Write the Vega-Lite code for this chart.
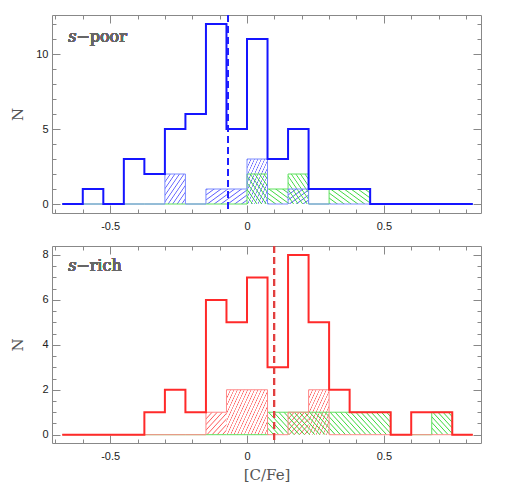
{
"$schema": "https://vega.github.io/schema/vega-lite/v6.json",
"padding": {"left": 10, "top": 13, "right": 5, "bottom": 5},
"spacing": 12,
"config": {"view": {"stroke": "#888", "strokeWidth": 1},
 "axis": {"domain": false, "grid": false, "tickColor": "#888", "labelFont": "Liberation Sans", "labelFontSize": 11, "labelColor": "#222", "titleFont": "DejaVu Serif", "titleFontWeight": "normal", "titleFontSize": 15, "titleColor": "#555"}},
"datasets": {
 "poor": [
  {"x0": -0.675, "x1": -0.6, "total": 0, "blue": 0, "green": 0},
  {"x0": -0.6, "x1": -0.525, "total": 1, "blue": 0, "green": 0},
  {"x0": -0.525, "x1": -0.45, "total": 0, "blue": 0, "green": 0},
  {"x0": -0.45, "x1": -0.375, "total": 3, "blue": 0, "green": 0},
  {"x0": -0.375, "x1": -0.3, "total": 2, "blue": 0, "green": 0},
  {"x0": -0.3, "x1": -0.225, "total": 5, "blue": 2, "green": 0},
  {"x0": -0.225, "x1": -0.15, "total": 6, "blue": 0, "green": 0},
  {"x0": -0.15, "x1": -0.075, "total": 12, "blue": 1, "green": 0},
  {"x0": -0.075, "x1": 0, "total": 5, "blue": 1, "green": 0},
  {"x0": 0, "x1": 0.075, "total": 11, "blue": 3, "green": 2},
  {"x0": 0.075, "x1": 0.15, "total": 3, "blue": 0, "green": 1},
  {"x0": 0.15, "x1": 0.225, "total": 5, "blue": 1, "green": 2},
  {"x0": 0.225, "x1": 0.3, "total": 1, "blue": 0, "green": 0},
  {"x0": 0.3, "x1": 0.375, "total": 1, "blue": 0, "green": 1},
  {"x0": 0.375, "x1": 0.45, "total": 1, "blue": 0, "green": 1},
  {"x0": 0.45, "x1": 0.525, "total": 0, "blue": 0, "green": 0},
  {"x0": 0.525, "x1": 0.6, "total": 0, "blue": 0, "green": 0},
  {"x0": 0.6, "x1": 0.675, "total": 0, "blue": 0, "green": 0},
  {"x0": 0.675, "x1": 0.75, "total": 0, "blue": 0, "green": 0},
  {"x0": 0.75, "x1": 0.825, "total": 0, "blue": 0, "green": 0},
  {"x0": 0.825, "x1": null, "total": 0, "blue": 0, "green": 0}
 ],
 "rich": [
  {"x0": -0.675, "x1": -0.6, "total": 0, "red": 0, "green": 0},
  {"x0": -0.6, "x1": -0.525, "total": 0, "red": 0, "green": 0},
  {"x0": -0.525, "x1": -0.45, "total": 0, "red": 0, "green": 0},
  {"x0": -0.45, "x1": -0.375, "total": 0, "red": 0, "green": 0},
  {"x0": -0.375, "x1": -0.3, "total": 1, "red": 0, "green": 0},
  {"x0": -0.3, "x1": -0.225, "total": 2, "red": 0, "green": 0},
  {"x0": -0.225, "x1": -0.15, "total": 1, "red": 0, "green": 0},
  {"x0": -0.15, "x1": -0.075, "total": 6, "red": 1, "green": 0},
  {"x0": -0.075, "x1": 0, "total": 5, "red": 2, "green": 0},
  {"x0": 0, "x1": 0.075, "total": 7, "red": 2, "green": 0},
  {"x0": 0.075, "x1": 0.15, "total": 3, "red": 0, "green": 1},
  {"x0": 0.15, "x1": 0.225, "total": 8, "red": 1, "green": 1},
  {"x0": 0.225, "x1": 0.3, "total": 5, "red": 2, "green": 1},
  {"x0": 0.3, "x1": 0.375, "total": 2, "red": 0, "green": 1},
  {"x0": 0.375, "x1": 0.45, "total": 1, "red": 0, "green": 1},
  {"x0": 0.45, "x1": 0.525, "total": 1, "red": 0, "green": 1},
  {"x0": 0.525, "x1": 0.6, "total": 0, "red": 0, "green": 0},
  {"x0": 0.6, "x1": 0.675, "total": 1, "red": 0, "green": 0},
  {"x0": 0.675, "x1": 0.75, "total": 1, "red": 0, "green": 1},
  {"x0": 0.75, "x1": 0.825, "total": 0, "red": 0, "green": 0},
  {"x0": 0.825, "x1": null, "total": 0, "red": 0, "green": 0}
 ]
},
"vconcat": [
 {
  "width": 429, "height": 198,
  "data": {"name": "poor"},
  "resolve": {"axis": {"x": "independent", "y": "independent"}},
  "layer": [
   {"transform": [{"filter": "datum.blue > 0"}],
    "mark": {"type": "rect", "stroke": null},
    "encoding": {
     "x": {"field": "x0", "type": "quantitative", "scale": {"domain": [-0.7125, 0.855], "nice": false, "zero": false},
       "axis": {"orient": "bottom", "values": [-0.5, 0, 0.5], "tickSize": -8, "labelPadding": 15, "title": null,
         "labelExpr": "datum.value == 0 ? '0' : (datum.value < 0 ? '-' : '') + format(abs(datum.value), '.1f')"}},
     "x2": {"field": "x1"},
     "y": {"field": "blue", "type": "quantitative", "scale": {"domain": [-0.6, 12.6], "nice": false, "zero": false},
       "axis": {"orient": "left", "values": [0, 5, 10], "tickSize": -8, "labelPadding": 12, "title": "N", "titlePadding": 10}},
     "y2": {"datum": 0},
     "fill": {"condition": [
       {"test": "datum.blue == 1", "value": {"gradient": "linear", "x1": 0, "y1": 0, "x2": 1, "y2": 1, "stops": [
        {"offset": 0, "color": "rgba(92,92,255,0)"}, {"offset": 0.0333, "color": "#5c5cff"}, {"offset": 0.0667, "color": "rgba(92,92,255,0)"},
        {"offset": 0.1667, "color": "rgba(92,92,255,0)"}, {"offset": 0.2, "color": "#5c5cff"}, {"offset": 0.2333, "color": "rgba(92,92,255,0)"},
        {"offset": 0.3333, "color": "rgba(92,92,255,0)"}, {"offset": 0.3667, "color": "#5c5cff"}, {"offset": 0.4, "color": "rgba(92,92,255,0)"},
        {"offset": 0.5, "color": "rgba(92,92,255,0)"}, {"offset": 0.5333, "color": "#5c5cff"}, {"offset": 0.5667, "color": "rgba(92,92,255,0)"},
        {"offset": 0.6667, "color": "rgba(92,92,255,0)"}, {"offset": 0.7, "color": "#5c5cff"}, {"offset": 0.7333, "color": "rgba(92,92,255,0)"},
        {"offset": 0.8333, "color": "rgba(92,92,255,0)"}, {"offset": 0.8667, "color": "#5c5cff"}, {"offset": 0.9, "color": "rgba(92,92,255,0)"}]}},
       {"test": "datum.blue == 2", "value": {"gradient": "linear", "x1": 0, "y1": 0, "x2": 1, "y2": 1, "stops": [
        {"offset": 0, "color": "rgba(92,92,255,0)"}, {"offset": 0.0222, "color": "#5c5cff"}, {"offset": 0.0444, "color": "rgba(92,92,255,0)"},
        {"offset": 0.1111, "color": "rgba(92,92,255,0)"}, {"offset": 0.1333, "color": "#5c5cff"}, {"offset": 0.1556, "color": "rgba(92,92,255,0)"},
        {"offset": 0.2222, "color": "rgba(92,92,255,0)"}, {"offset": 0.2444, "color": "#5c5cff"}, {"offset": 0.2667, "color": "rgba(92,92,255,0)"},
        {"offset": 0.3333, "color": "rgba(92,92,255,0)"}, {"offset": 0.3556, "color": "#5c5cff"}, {"offset": 0.3778, "color": "rgba(92,92,255,0)"},
        {"offset": 0.4444, "color": "rgba(92,92,255,0)"}, {"offset": 0.4667, "color": "#5c5cff"}, {"offset": 0.4889, "color": "rgba(92,92,255,0)"},
        {"offset": 0.5556, "color": "rgba(92,92,255,0)"}, {"offset": 0.5778, "color": "#5c5cff"}, {"offset": 0.6, "color": "rgba(92,92,255,0)"},
        {"offset": 0.6667, "color": "rgba(92,92,255,0)"}, {"offset": 0.6889, "color": "#5c5cff"}, {"offset": 0.7111, "color": "rgba(92,92,255,0)"},
        {"offset": 0.7778, "color": "rgba(92,92,255,0)"}, {"offset": 0.8, "color": "#5c5cff"}, {"offset": 0.8222, "color": "rgba(92,92,255,0)"},
        {"offset": 0.8889, "color": "rgba(92,92,255,0)"}, {"offset": 0.9111, "color": "#5c5cff"}, {"offset": 0.9333, "color": "rgba(92,92,255,0)"}]}}
      ],
      "value": {"gradient": "linear", "x1": 0, "y1": 0, "x2": 1, "y2": 1, "stops": [
        {"offset": 0, "color": "rgba(92,92,255,0)"}, {"offset": 0.0167, "color": "#5c5cff"}, {"offset": 0.0333, "color": "rgba(92,92,255,0)"},
        {"offset": 0.0833, "color": "rgba(92,92,255,0)"}, {"offset": 0.1, "color": "#5c5cff"}, {"offset": 0.1167, "color": "rgba(92,92,255,0)"},
        {"offset": 0.1667, "color": "rgba(92,92,255,0)"}, {"offset": 0.1833, "color": "#5c5cff"}, {"offset": 0.2, "color": "rgba(92,92,255,0)"},
        {"offset": 0.25, "color": "rgba(92,92,255,0)"}, {"offset": 0.2667, "color": "#5c5cff"}, {"offset": 0.2833, "color": "rgba(92,92,255,0)"},
        {"offset": 0.3333, "color": "rgba(92,92,255,0)"}, {"offset": 0.35, "color": "#5c5cff"}, {"offset": 0.3667, "color": "rgba(92,92,255,0)"},
        {"offset": 0.4167, "color": "rgba(92,92,255,0)"}, {"offset": 0.4333, "color": "#5c5cff"}, {"offset": 0.45, "color": "rgba(92,92,255,0)"},
        {"offset": 0.5, "color": "rgba(92,92,255,0)"}, {"offset": 0.5167, "color": "#5c5cff"}, {"offset": 0.5333, "color": "rgba(92,92,255,0)"},
        {"offset": 0.5833, "color": "rgba(92,92,255,0)"}, {"offset": 0.6, "color": "#5c5cff"}, {"offset": 0.6167, "color": "rgba(92,92,255,0)"},
        {"offset": 0.6667, "color": "rgba(92,92,255,0)"}, {"offset": 0.6833, "color": "#5c5cff"}, {"offset": 0.7, "color": "rgba(92,92,255,0)"},
        {"offset": 0.75, "color": "rgba(92,92,255,0)"}, {"offset": 0.7667, "color": "#5c5cff"}, {"offset": 0.7833, "color": "rgba(92,92,255,0)"},
        {"offset": 0.8333, "color": "rgba(92,92,255,0)"}, {"offset": 0.85, "color": "#5c5cff"}, {"offset": 0.8667, "color": "rgba(92,92,255,0)"},
        {"offset": 0.9167, "color": "rgba(92,92,255,0)"}, {"offset": 0.9333, "color": "#5c5cff"}, {"offset": 0.95, "color": "rgba(92,92,255,0)"}]}}
    }},
   {"transform": [{"filter": "datum.green > 0"}],
    "mark": {"type": "rect", "stroke": null},
    "encoding": {
     "x": {"field": "x0", "type": "quantitative",
       "axis": {"orient": "bottom", "values": [-0.7, -0.6, -0.5, -0.4, -0.3, -0.2, -0.1, 0, 0.1, 0.2, 0.3, 0.4, 0.5, 0.6, 0.7, 0.8], "tickSize": -4, "labels": false, "title": null}},
     "x2": {"field": "x1"},
     "y": {"field": "green", "type": "quantitative",
       "axis": {"orient": "left", "values": [0, 1, 2, 3, 4, 5, 6, 7, 8, 9, 10, 11, 12], "tickSize": -4, "labels": false, "title": null}},
     "y2": {"datum": 0},
     "fill": {"condition": [
       {"test": "datum.green == 1", "value": {"gradient": "linear", "x1": 0, "y1": 1, "x2": 1, "y2": 0, "stops": [
        {"offset": 0, "color": "rgba(62,216,62,0)"}, {"offset": 0.0333, "color": "#3ed83e"}, {"offset": 0.0667, "color": "rgba(62,216,62,0)"},
        {"offset": 0.1667, "color": "rgba(62,216,62,0)"}, {"offset": 0.2, "color": "#3ed83e"}, {"offset": 0.2333, "color": "rgba(62,216,62,0)"},
        {"offset": 0.3333, "color": "rgba(62,216,62,0)"}, {"offset": 0.3667, "color": "#3ed83e"}, {"offset": 0.4, "color": "rgba(62,216,62,0)"},
        {"offset": 0.5, "color": "rgba(62,216,62,0)"}, {"offset": 0.5333, "color": "#3ed83e"}, {"offset": 0.5667, "color": "rgba(62,216,62,0)"},
        {"offset": 0.6667, "color": "rgba(62,216,62,0)"}, {"offset": 0.7, "color": "#3ed83e"}, {"offset": 0.7333, "color": "rgba(62,216,62,0)"},
        {"offset": 0.8333, "color": "rgba(62,216,62,0)"}, {"offset": 0.8667, "color": "#3ed83e"}, {"offset": 0.9, "color": "rgba(62,216,62,0)"}]}}
      ],
      "value": {"gradient": "linear", "x1": 0, "y1": 1, "x2": 1, "y2": 0, "stops": [
        {"offset": 0, "color": "rgba(62,216,62,0)"}, {"offset": 0.0222, "color": "#3ed83e"}, {"offset": 0.0444, "color": "rgba(62,216,62,0)"},
        {"offset": 0.1111, "color": "rgba(62,216,62,0)"}, {"offset": 0.1333, "color": "#3ed83e"}, {"offset": 0.1556, "color": "rgba(62,216,62,0)"},
        {"offset": 0.2222, "color": "rgba(62,216,62,0)"}, {"offset": 0.2444, "color": "#3ed83e"}, {"offset": 0.2667, "color": "rgba(62,216,62,0)"},
        {"offset": 0.3333, "color": "rgba(62,216,62,0)"}, {"offset": 0.3556, "color": "#3ed83e"}, {"offset": 0.3778, "color": "rgba(62,216,62,0)"},
        {"offset": 0.4444, "color": "rgba(62,216,62,0)"}, {"offset": 0.4667, "color": "#3ed83e"}, {"offset": 0.4889, "color": "rgba(62,216,62,0)"},
        {"offset": 0.5556, "color": "rgba(62,216,62,0)"}, {"offset": 0.5778, "color": "#3ed83e"}, {"offset": 0.6, "color": "rgba(62,216,62,0)"},
        {"offset": 0.6667, "color": "rgba(62,216,62,0)"}, {"offset": 0.6889, "color": "#3ed83e"}, {"offset": 0.7111, "color": "rgba(62,216,62,0)"},
        {"offset": 0.7778, "color": "rgba(62,216,62,0)"}, {"offset": 0.8, "color": "#3ed83e"}, {"offset": 0.8222, "color": "rgba(62,216,62,0)"},
        {"offset": 0.8889, "color": "rgba(62,216,62,0)"}, {"offset": 0.9111, "color": "#3ed83e"}, {"offset": 0.9333, "color": "rgba(62,216,62,0)"}]}}
    }},
   {"mark": {"type": "line", "interpolate": "step-after", "color": "#5fe05f", "strokeWidth": 1},
    "encoding": {
     "x": {"field": "x0", "type": "quantitative", "axis": {"orient": "top", "values": [-0.5, 0, 0.5], "tickSize": -8, "labels": false, "title": null}},
     "y": {"field": "green", "type": "quantitative", "axis": {"orient": "right", "values": [0, 5, 10], "tickSize": -8, "labels": false, "title": null}}
    }},
   {"mark": {"type": "line", "interpolate": "step-after", "color": "#7a8aff", "strokeWidth": 1},
    "encoding": {
     "x": {"field": "x0", "type": "quantitative", "axis": {"orient": "top", "values": [-0.7, -0.6, -0.5, -0.4, -0.3, -0.2, -0.1, 0, 0.1, 0.2, 0.3, 0.4, 0.5, 0.6, 0.7, 0.8], "tickSize": -4, "labels": false, "title": null}},
     "y": {"field": "blue", "type": "quantitative", "axis": {"orient": "right", "values": [0, 1, 2, 3, 4, 5, 6, 7, 8, 9, 10, 11, 12], "tickSize": -4, "labels": false, "title": null}}
    }},
   {"mark": {"type": "line", "interpolate": "step-after", "color": "#1515ff", "strokeWidth": 2},
    "encoding": {
     "x": {"field": "x0", "type": "quantitative", "axis": null},
     "y": {"field": "total", "type": "quantitative", "axis": null}
    }},
   {"mark": {"type": "rule", "color": "#2020ff", "strokeWidth": 1.3, "strokeDash": [7, 4]},
    "encoding": {"x": {"datum": -0.07, "type": "quantitative", "axis": null}}},
   {"mark": {"type": "text", "text": "s", "font": "DejaVu Serif", "fontStyle": "italic", "fontSize": 16, "color": "#666", "align": "left", "baseline": "alphabetic"},
    "encoding": {"x": {"datum": -0.653, "type": "quantitative", "axis": null}, "y": {"datum": 10.8, "type": "quantitative", "axis": null}}},
   {"mark": {"type": "text", "text": "−poor", "font": "DejaVu Serif", "fontSize": 16, "color": "#666", "align": "left", "baseline": "alphabetic", "dx": 8},
    "encoding": {"x": {"datum": -0.653, "type": "quantitative", "axis": null}, "y": {"datum": 10.8, "type": "quantitative", "axis": null}}}
  ]
 },
 {
  "width": 429, "height": 197,
  "data": {"name": "rich"},
  "resolve": {"axis": {"x": "independent", "y": "independent"}},
  "layer": [
   {"transform": [{"filter": "datum.red > 0"}],
    "mark": {"type": "rect", "stroke": null},
    "encoding": {
     "x": {"field": "x0", "type": "quantitative", "scale": {"domain": [-0.7125, 0.855], "nice": false, "zero": false},
       "axis": {"orient": "bottom", "values": [-0.5, 0, 0.5], "tickSize": -8, "labelPadding": 15, "title": "[C/Fe]", "titlePadding": 6,
         "labelExpr": "datum.value == 0 ? '0' : (datum.value < 0 ? '-' : '') + format(abs(datum.value), '.1f')"}},
     "x2": {"field": "x1"},
     "y": {"field": "red", "type": "quantitative", "scale": {"domain": [-0.37, 8.4], "nice": false, "zero": false},
       "axis": {"orient": "left", "values": [0, 2, 4, 6, 8], "tickSize": -8, "labelPadding": 12, "title": "N", "titlePadding": 16}},
     "y2": {"datum": 0},
     "fill": {"condition": [
       {"test": "datum.red == 1", "value": {"gradient": "linear", "x1": 0, "y1": 0, "x2": 1, "y2": 1, "stops": [
        {"offset": 0, "color": "rgba(255,92,92,0)"}, {"offset": 0.025, "color": "#ff5c5c"}, {"offset": 0.05, "color": "rgba(255,92,92,0)"},
        {"offset": 0.125, "color": "rgba(255,92,92,0)"}, {"offset": 0.15, "color": "#ff5c5c"}, {"offset": 0.175, "color": "rgba(255,92,92,0)"},
        {"offset": 0.25, "color": "rgba(255,92,92,0)"}, {"offset": 0.275, "color": "#ff5c5c"}, {"offset": 0.3, "color": "rgba(255,92,92,0)"},
        {"offset": 0.375, "color": "rgba(255,92,92,0)"}, {"offset": 0.4, "color": "#ff5c5c"}, {"offset": 0.425, "color": "rgba(255,92,92,0)"},
        {"offset": 0.5, "color": "rgba(255,92,92,0)"}, {"offset": 0.525, "color": "#ff5c5c"}, {"offset": 0.55, "color": "rgba(255,92,92,0)"},
        {"offset": 0.625, "color": "rgba(255,92,92,0)"}, {"offset": 0.65, "color": "#ff5c5c"}, {"offset": 0.675, "color": "rgba(255,92,92,0)"},
        {"offset": 0.75, "color": "rgba(255,92,92,0)"}, {"offset": 0.775, "color": "#ff5c5c"}, {"offset": 0.8, "color": "rgba(255,92,92,0)"},
        {"offset": 0.875, "color": "rgba(255,92,92,0)"}, {"offset": 0.9, "color": "#ff5c5c"}, {"offset": 0.925, "color": "rgba(255,92,92,0)"}]}}
      ],
      "value": {"gradient": "linear", "x1": 0, "y1": 0, "x2": 1, "y2": 1, "stops": [
        {"offset": 0, "color": "rgba(255,92,92,0)"}, {"offset": 0.0167, "color": "#ff5c5c"}, {"offset": 0.0333, "color": "rgba(255,92,92,0)"},
        {"offset": 0.0833, "color": "rgba(255,92,92,0)"}, {"offset": 0.1, "color": "#ff5c5c"}, {"offset": 0.1167, "color": "rgba(255,92,92,0)"},
        {"offset": 0.1667, "color": "rgba(255,92,92,0)"}, {"offset": 0.1833, "color": "#ff5c5c"}, {"offset": 0.2, "color": "rgba(255,92,92,0)"},
        {"offset": 0.25, "color": "rgba(255,92,92,0)"}, {"offset": 0.2667, "color": "#ff5c5c"}, {"offset": 0.2833, "color": "rgba(255,92,92,0)"},
        {"offset": 0.3333, "color": "rgba(255,92,92,0)"}, {"offset": 0.35, "color": "#ff5c5c"}, {"offset": 0.3667, "color": "rgba(255,92,92,0)"},
        {"offset": 0.4167, "color": "rgba(255,92,92,0)"}, {"offset": 0.4333, "color": "#ff5c5c"}, {"offset": 0.45, "color": "rgba(255,92,92,0)"},
        {"offset": 0.5, "color": "rgba(255,92,92,0)"}, {"offset": 0.5167, "color": "#ff5c5c"}, {"offset": 0.5333, "color": "rgba(255,92,92,0)"},
        {"offset": 0.5833, "color": "rgba(255,92,92,0)"}, {"offset": 0.6, "color": "#ff5c5c"}, {"offset": 0.6167, "color": "rgba(255,92,92,0)"},
        {"offset": 0.6667, "color": "rgba(255,92,92,0)"}, {"offset": 0.6833, "color": "#ff5c5c"}, {"offset": 0.7, "color": "rgba(255,92,92,0)"},
        {"offset": 0.75, "color": "rgba(255,92,92,0)"}, {"offset": 0.7667, "color": "#ff5c5c"}, {"offset": 0.7833, "color": "rgba(255,92,92,0)"},
        {"offset": 0.8333, "color": "rgba(255,92,92,0)"}, {"offset": 0.85, "color": "#ff5c5c"}, {"offset": 0.8667, "color": "rgba(255,92,92,0)"},
        {"offset": 0.9167, "color": "rgba(255,92,92,0)"}, {"offset": 0.9333, "color": "#ff5c5c"}, {"offset": 0.95, "color": "rgba(255,92,92,0)"}]}}
    }},
   {"transform": [{"filter": "datum.green > 0"}],
    "mark": {"type": "rect", "stroke": null},
    "encoding": {
     "x": {"field": "x0", "type": "quantitative",
       "axis": {"orient": "bottom", "values": [-0.7, -0.6, -0.5, -0.4, -0.3, -0.2, -0.1, 0, 0.1, 0.2, 0.3, 0.4, 0.5, 0.6, 0.7, 0.8], "tickSize": -4, "labels": false, "title": null}},
     "x2": {"field": "x1"},
     "y": {"field": "green", "type": "quantitative",
       "axis": {"orient": "left", "values": [0, 0.5, 1, 1.5, 2, 2.5, 3, 3.5, 4, 4.5, 5, 5.5, 6, 6.5, 7, 7.5, 8], "tickSize": -4, "labels": false, "title": null}},
     "y2": {"datum": 0},
     "fill": {"value": {"gradient": "linear", "x1": 0, "y1": 1, "x2": 1, "y2": 0, "stops": [
        {"offset": 0, "color": "rgba(62,216,62,0)"}, {"offset": 0.025, "color": "#3ed83e"}, {"offset": 0.05, "color": "rgba(62,216,62,0)"},
        {"offset": 0.125, "color": "rgba(62,216,62,0)"}, {"offset": 0.15, "color": "#3ed83e"}, {"offset": 0.175, "color": "rgba(62,216,62,0)"},
        {"offset": 0.25, "color": "rgba(62,216,62,0)"}, {"offset": 0.275, "color": "#3ed83e"}, {"offset": 0.3, "color": "rgba(62,216,62,0)"},
        {"offset": 0.375, "color": "rgba(62,216,62,0)"}, {"offset": 0.4, "color": "#3ed83e"}, {"offset": 0.425, "color": "rgba(62,216,62,0)"},
        {"offset": 0.5, "color": "rgba(62,216,62,0)"}, {"offset": 0.525, "color": "#3ed83e"}, {"offset": 0.55, "color": "rgba(62,216,62,0)"},
        {"offset": 0.625, "color": "rgba(62,216,62,0)"}, {"offset": 0.65, "color": "#3ed83e"}, {"offset": 0.675, "color": "rgba(62,216,62,0)"},
        {"offset": 0.75, "color": "rgba(62,216,62,0)"}, {"offset": 0.775, "color": "#3ed83e"}, {"offset": 0.8, "color": "rgba(62,216,62,0)"},
        {"offset": 0.875, "color": "rgba(62,216,62,0)"}, {"offset": 0.9, "color": "#3ed83e"}, {"offset": 0.925, "color": "rgba(62,216,62,0)"}]}}
    }},
   {"mark": {"type": "line", "interpolate": "step-after", "color": "#5fe05f", "strokeWidth": 1},
    "encoding": {
     "x": {"field": "x0", "type": "quantitative", "axis": {"orient": "top", "values": [-0.5, 0, 0.5], "tickSize": -8, "labels": false, "title": null}},
     "y": {"field": "green", "type": "quantitative", "axis": {"orient": "right", "values": [0, 2, 4, 6, 8], "tickSize": -8, "labels": false, "title": null}}
    }},
   {"mark": {"type": "line", "interpolate": "step-after", "color": "#ff8a8a", "strokeWidth": 1},
    "encoding": {
     "x": {"field": "x0", "type": "quantitative", "axis": {"orient": "top", "values": [-0.7, -0.6, -0.5, -0.4, -0.3, -0.2, -0.1, 0, 0.1, 0.2, 0.3, 0.4, 0.5, 0.6, 0.7, 0.8], "tickSize": -4, "labels": false, "title": null}},
     "y": {"field": "red", "type": "quantitative", "axis": {"orient": "right", "values": [0, 0.5, 1, 1.5, 2, 2.5, 3, 3.5, 4, 4.5, 5, 5.5, 6, 6.5, 7, 7.5, 8], "tickSize": -4, "labels": false, "title": null}}
    }},
   {"mark": {"type": "line", "interpolate": "step-after", "color": "#ff2a2a", "strokeWidth": 2},
    "encoding": {
     "x": {"field": "x0", "type": "quantitative", "axis": null},
     "y": {"field": "total", "type": "quantitative", "axis": null}
    }},
   {"mark": {"type": "rule", "color": "#e04040", "strokeWidth": 1.3, "strokeDash": [7, 4]},
    "encoding": {"x": {"datum": 0.1, "type": "quantitative", "axis": null}}},
   {"mark": {"type": "text", "text": "s", "font": "DejaVu Serif", "fontStyle": "italic", "fontSize": 16, "color": "#666", "align": "left", "baseline": "alphabetic"},
    "encoding": {"x": {"datum": -0.653, "type": "quantitative", "axis": null}, "y": {"datum": 7.28, "type": "quantitative", "axis": null}}},
   {"mark": {"type": "text", "text": "−rich", "font": "DejaVu Serif", "fontSize": 16, "color": "#666", "align": "left", "baseline": "alphabetic", "dx": 8},
    "encoding": {"x": {"datum": -0.653, "type": "quantitative", "axis": null}, "y": {"datum": 7.28, "type": "quantitative", "axis": null}}}
  ]
 }
]
}
